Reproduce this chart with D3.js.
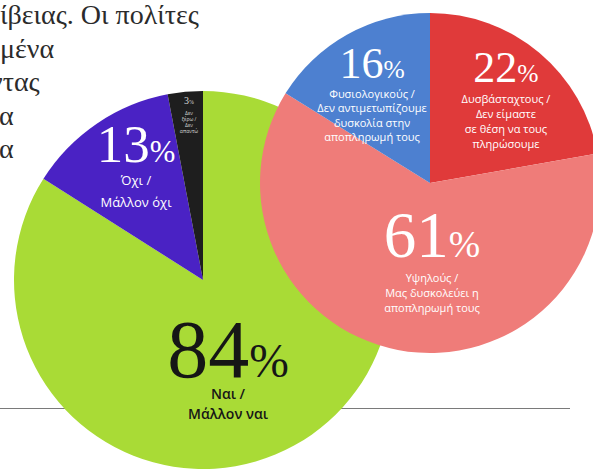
<!DOCTYPE html>
<html>
<head>
<meta charset="utf-8">
<script src="https://cdn.jsdelivr.net/npm/d3@7"></script>
<style>
  body { margin: 0; background: #fff; }
  svg { display: block; }
  .bg-text { font-family: "Liberation Serif", serif; font-size: 28px; fill: #2b2b2b; }
  .num { font-family: "Liberation Serif", serif; }
  .lbl { font-family: "Open Sans", sans-serif; text-anchor: middle; }
</style>
</head>
<body>
<div id="chart"></div>
<script>
// left pie: "Ναι / Όχι"
var leftCategories = ["Ναι / Μάλλον ναι", "Όχι / Μάλλον όχι", "Δεν ξέρω / Δεν απαντώ"];
var leftValues = [84, 13, 3];
var leftLabels = [["Ναι /", "Μάλλον ναι"], ["Όχι /", "Μάλλον όχι"], ["Δεν", "ξέρω /", "Δεν", "απαντώ"]];

// right pie: how the instalments feel
var rightCategories = ["Δυσβάσταχτους", "Υψηλούς", "Φυσιολογικούς"];
var rightValues = [22, 61, 16];
var rightLabels = [
  ["Δυσβάσταχτους /", "Δεν είμαστε", "σε θέση να τους", "πληρώσουμε"],
  ["Υψηλούς /", "Μας δυσκολεύει η", "αποπληρωμή τους"],
  ["Φυσιολογικούς /", "Δεν αντιμετωπίζουμε", "δυσκολία στην", "αποπληρωμή τους"]
];

// article text peeking out behind the charts
var bodyLines = ["ίβειας. Οι πολίτες", "μένα", "ντας", "α", "α"];

var width = 593, height = 469;

var svg = d3.select("#chart").append("svg")
    .attr("width", width)
    .attr("height", height);

// background text
var textX = [0, 0, -10, -1, -1];
svg.selectAll(".bg-text")
    .data(bodyLines)
    .enter().append("text")
    .attr("class", "bg-text")
    .attr("x", function(d, i) { return textX[i]; })
    .attr("y", function(d, i) { return 24 + i * 33.5; })
    .text(function(d) { return d; });

// rule line behind pies
svg.append("line")
    .attr("x1", 0).attr("x2", 570)
    .attr("y1", 408.5).attr("y2", 408.5)
    .attr("stroke", "#7a7a7a")
    .attr("stroke-width", 1.2);

var pie = d3.pie().sort(null).value(function(d) { return d; });

function drawPie(cfg) {
    var g = svg.append("g")
        .attr("transform", "translate(" + cfg.cx + "," + cfg.cy + ")");

    var arc = d3.arc().innerRadius(0).outerRadius(cfg.r);
    var arcs = pie(cfg.values);

    g.selectAll("path")
        .data(arcs)
        .enter().append("path")
        .attr("d", arc)
        .attr("fill", function(d, i) { return cfg.colors[i]; });

    arcs.forEach(function(a, i) {
        var L = cfg.layout[i];
        var t = g.append("text")
            .attr("class", "num")
            .attr("x", L.dx)
            .attr("y", L.dy)
            .attr("text-anchor", "middle")
            .attr("fill", cfg.textColors[i]);
        t.append("tspan")
            .attr("font-size", L.size)
            .text(cfg.values[i]);
        t.append("tspan")
            .attr("font-size", L.size * 0.58)
            .text("%");

        g.selectAll(".lbl-" + i)
            .data(cfg.labels[i])
            .enter().append("text")
            .attr("class", "lbl")
            .attr("x", L.dx + (L.ldx || 0))
            .attr("y", function(d, j) { return L.ly + j * L.lh; })
            .attr("font-size", L.lsize)
            .attr("font-weight", L.weight || 400)
            .attr("fill", cfg.textColors[i])
            .text(function(d) { return d; });
    });
}

drawPie({
    cx: 203, cy: 280, r: 189,
    values: leftValues,
    labels: leftLabels,
    colors: ["#a9db36", "#4a22c4", "#1e1e1e"],
    textColors: ["#161616", "#ffffff", "#d8d8d8"],
    layout: [
        { dx: 25, dy: 97, size: 82, ly: 119, lh: 20, lsize: 14, weight: 600 },
        { dx: -67, dy: -118, size: 53, ly: -95, lh: 22, lsize: 13 },
        { dx: -14, dy: -176, size: 10, ly: -165, lh: 6, lsize: 5 }
    ]
});

drawPie({
    cx: 430, cy: 183, r: 170,
    values: rightValues,
    labels: rightLabels,
    colors: ["#e03a3a", "#ef7c79", "#4d80d0"],
    textColors: ["#ffffff", "#ffffff", "#ffffff"],
    layout: [
        { dx: 76, dy: -101, size: 44, ly: -80, lh: 15, lsize: 11 },
        { dx: 2, dy: 74, size: 65, ly: 99, lh: 15, lsize: 11 },
        { dx: -58, dy: -105, size: 44, ly: -85, lh: 14.3, lsize: 11 }
    ]
});
</script>
</body>
</html>
